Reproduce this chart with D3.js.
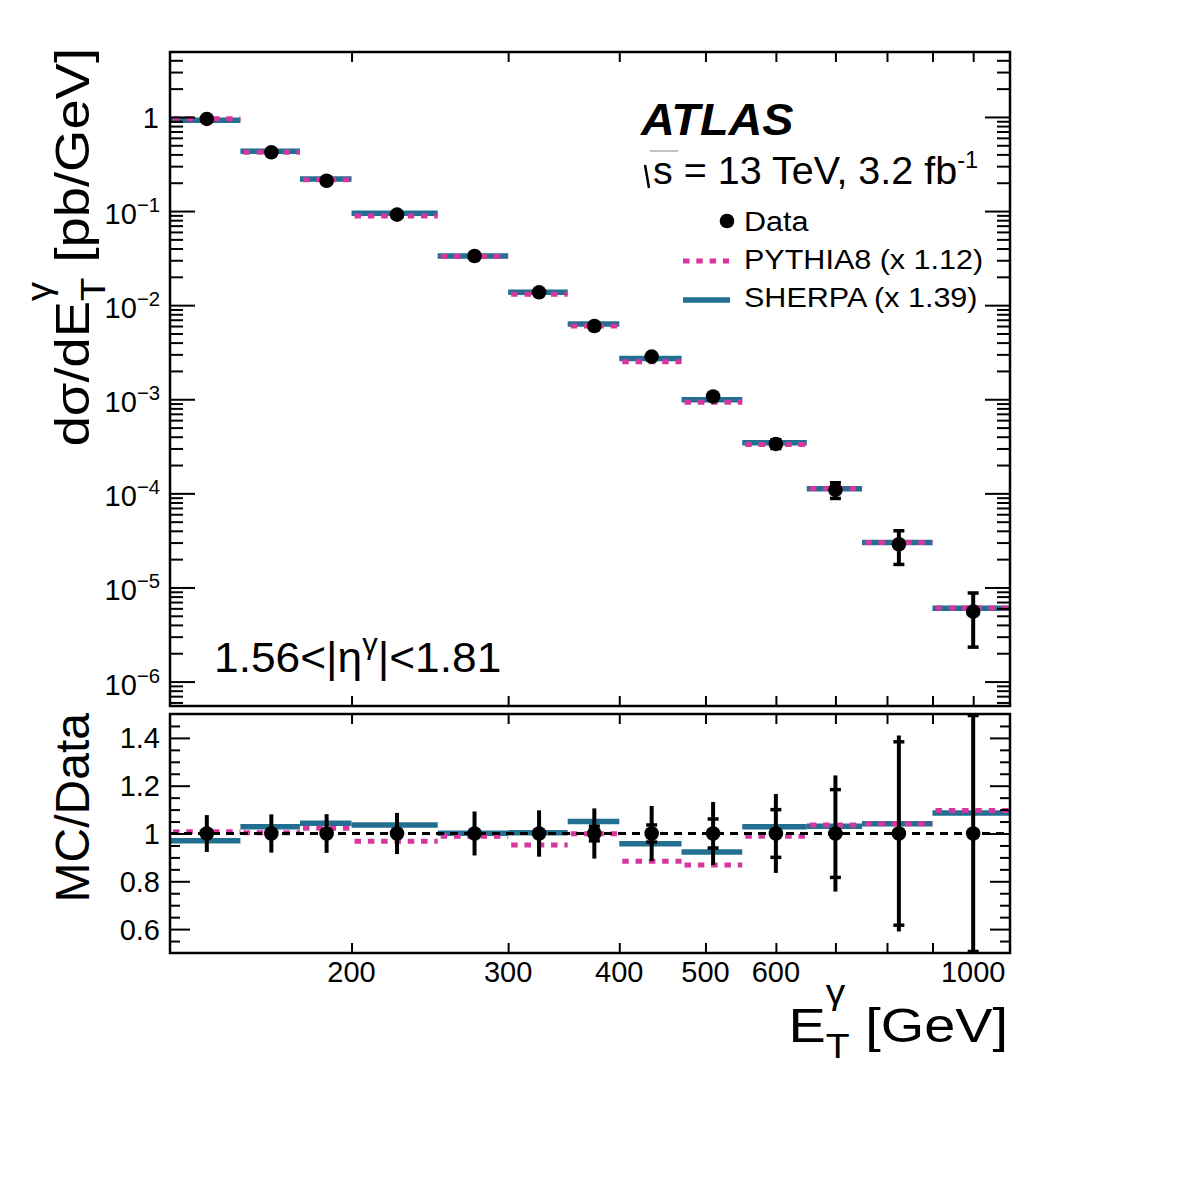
<!DOCTYPE html>
<html>
<head>
<meta charset="utf-8">
<script src="https://cdn.jsdelivr.net/npm/d3@7"></script>
<style>
body{margin:0;background:#ffffff;}
text{font-family:"Liberation Sans",Arial,Helvetica,sans-serif;fill:#000;}
</style>
</head>
<body>
<svg id="chart" width="1182" height="1182"></svg>
<script>
// bin edges in GeV, cross sections in pb/GeV, ratios MC/Data
var binEdges = [125,150,175,200,250,300,350,400,470,550,650,750,900,1100];
var dataXsec = [0.952,0.421,0.210,0.0916,0.0333,0.0137,0.00601,0.00284,0.00107,3.35e-4,1.09e-4,2.88e-5,5.53e-6];
var statErr = [0.010,0.010,0.012,0.012,0.014,0.018,0.037,0.042,0.067,0.106,0.19,0.39,0.58];
var totErr = [0.077,0.080,0.081,0.086,0.092,0.097,0.105,0.115,0.132,0.165,0.243,0.41,0.62];
var pythiaRatio = [1.007,1.003,1.022,0.968,0.989,0.952,0.999,0.884,0.868,0.988,1.036,1.041,1.096];
var sherpaRatio = [0.970,1.028,1.043,1.036,1.001,1.003,1.050,0.957,0.923,1.028,1.030,1.041,1.086];
var xTicks = [200,300,400,500,600,700,800,900,1000];
var xLabels = [200,300,400,500,600,1000];
var yExps = [0,-1,-2,-3,-4,-5,-6];
var ratioLabels = [0.6,0.8,1,1.2,1.4];
var legendNames = ["Data","PYTHIA8 (x 1.12)","SHERPA (x 1.39)"];

var pinkColor = "#d6379f";
var tealColor = "#236f91";

var svg = d3.select("#chart");
var L=170, R=1010, T1=52, B1=706, T2=714, B2=953;

var x = d3.scaleLog().domain([125,1100]).range([L,R]);
var y = d3.scaleLog().domain([5.5e-7,4.9]).range([B1,T1]);
var yr = d3.scaleLinear().domain([0.5,1.5]).range([B2,T2]);

function measure(str,size)
{
	var t = svg.append("text").attr("font-size",size).text(str);
	var w = t.node().getComputedTextLength();
	t.remove();
	return w;
}

var bins = [];
for(var i=0;i<dataXsec.length;i++)
{
	bins.push({
		lo:binEdges[i], hi:binEdges[i+1], c:(binEdges[i]+binEdges[i+1])/2,
		val:dataXsec[i], stat:statErr[i], tot:totErr[i],
		py:pythiaRatio[i], sh:sherpaRatio[i]
	});
}

var defs = svg.append("defs");
defs.append("clipPath").attr("id","clipMain").append("rect").attr("x",L).attr("y",T1).attr("width",R-L).attr("height",B1-T1);
defs.append("clipPath").attr("id","clipRatio").append("rect").attr("x",L).attr("y",T2).attr("width",R-L).attr("height",B2-T2);

//================ main panel ================
var gMain = svg.append("g").attr("clip-path","url(#clipMain)");

gMain.selectAll("line.sh").data(bins).enter().append("line")
	.attr("x1",function(d){return x(d.lo);}).attr("x2",function(d){return x(d.hi);})
	.attr("y1",function(d){return y(d.val*d.sh);}).attr("y2",function(d){return y(d.val*d.sh);})
	.attr("stroke",tealColor).attr("stroke-width",5.5);
gMain.selectAll("line.py").data(bins).enter().append("line")
	.attr("x1",function(d){return x(d.lo);}).attr("x2",function(d){return x(d.hi);})
	.attr("y1",function(d){return y(d.val*d.py);}).attr("y2",function(d){return y(d.val*d.py);})
	.attr("stroke",pinkColor).attr("stroke-width",5).attr("stroke-dasharray","6.5,6.8").attr("stroke-dashoffset",-3);

// stat error bars with caps
gMain.selectAll("line.err").data(bins).enter().append("line")
	.attr("x1",function(d){return x(d.c);}).attr("x2",function(d){return x(d.c);})
	.attr("y1",function(d){return y(d.val*(1+d.stat));}).attr("y2",function(d){return y(d.val*(1-d.stat));})
	.attr("stroke","#000").attr("stroke-width",4);
[1,-1].forEach(function(s){
	gMain.selectAll(null).data(bins).enter().append("line")
		.attr("x1",function(d){return x(d.c)-5.5;}).attr("x2",function(d){return x(d.c)+5.5;})
		.attr("y1",function(d){return y(d.val*(1+s*d.stat));}).attr("y2",function(d){return y(d.val*(1+s*d.stat));})
		.attr("stroke","#000").attr("stroke-width",3.5);
});
gMain.selectAll("circle").data(bins).enter().append("circle")
	.attr("cx",function(d){return x(d.c);}).attr("cy",function(d){return y(d.val);})
	.attr("r",7.3).attr("fill","#000");

//================ ratio panel ================
var gRat = svg.append("g").attr("clip-path","url(#clipRatio)");

gRat.selectAll("line.sh").data(bins).enter().append("line")
	.attr("x1",function(d){return x(d.lo);}).attr("x2",function(d){return x(d.hi);})
	.attr("y1",function(d){return yr(d.sh);}).attr("y2",function(d){return yr(d.sh);})
	.attr("stroke",tealColor).attr("stroke-width",5.5);
gRat.selectAll("line.py").data(bins).enter().append("line")
	.attr("x1",function(d){return x(d.lo);}).attr("x2",function(d){return x(d.hi);})
	.attr("y1",function(d){return yr(d.py);}).attr("y2",function(d){return yr(d.py);})
	.attr("stroke",pinkColor).attr("stroke-width",5).attr("stroke-dasharray","6.5,6.8").attr("stroke-dashoffset",-3);

gRat.append("line").attr("x1",L).attr("x2",R).attr("y1",yr(1)).attr("y2",yr(1))
	.attr("stroke","#000").attr("stroke-width",3).attr("stroke-dasharray","8,6");

function clampR(v){ return Math.max(0.5,Math.min(1.5,v)); }
// total error (no caps)
gRat.selectAll(null).data(bins).enter().append("line")
	.attr("x1",function(d){return x(d.c);}).attr("x2",function(d){return x(d.c);})
	.attr("y1",function(d){return yr(clampR(1+d.tot));}).attr("y2",function(d){return yr(clampR(1-d.tot));})
	.attr("stroke","#000").attr("stroke-width",4);
// stat error caps
[1,-1].forEach(function(s){
	gRat.selectAll(null).data(bins).enter().append("line")
		.attr("x1",function(d){return x(d.c)-5.5;}).attr("x2",function(d){return x(d.c)+5.5;})
		.attr("y1",function(d){return yr(clampR(1+s*d.stat))+s*1.5;}).attr("y2",function(d){return yr(clampR(1+s*d.stat))+s*1.5;})
		.attr("stroke","#000").attr("stroke-width",3.5);
});
gRat.selectAll("circle").data(bins).enter().append("circle")
	.attr("cx",function(d){return x(d.c);}).attr("cy",yr(1))
	.attr("r",7.3).attr("fill","#000");

//================ axes / ticks ================
function tickAxis(axis,tx,ty,size,vals)
{
	var g = svg.append("g").attr("transform","translate("+tx+","+ty+")")
		.call(axis.tickValues(vals).tickSize(size).tickFormat(""));
	g.select(".domain").remove();
	g.selectAll(".tick line").attr("stroke","#000").attr("stroke-width",2);
}

// x ticks, inward on both edges of both panels
tickAxis(d3.axisBottom(x),0,T1,10,xTicks);
tickAxis(d3.axisTop(x),0,B1,10,xTicks);
tickAxis(d3.axisBottom(x),0,T2,10,xTicks);
tickAxis(d3.axisTop(x),0,B2,10,xTicks);

// main y ticks
var yMajor = yExps.map(function(e){return Math.pow(10,e);});
var yMinor = [];
for(var e=-7;e<=0;e++)
	for(var k=2;k<=9;k++)
	{
		var v = k*Math.pow(10,e);
		if(v>5.5e-7 && v<4.9) yMinor.push(v);
	}
tickAxis(d3.axisRight(y),L,0,25,yMajor);
tickAxis(d3.axisRight(y),L,0,13,yMinor);
tickAxis(d3.axisLeft(y),R,0,25,yMajor);
tickAxis(d3.axisLeft(y),R,0,13,yMinor);

// ratio y ticks
var rMinor = [];
for(var i=11;i<=29;i++)
{
	if(i%4!=0) rMinor.push(i*0.05);
}
tickAxis(d3.axisRight(yr),L,0,20,ratioLabels);
tickAxis(d3.axisRight(yr),L,0,10,rMinor);
tickAxis(d3.axisLeft(yr),R,0,20,ratioLabels);
tickAxis(d3.axisLeft(yr),R,0,10,rMinor);

// frames
svg.append("rect").attr("x",L).attr("y",T1).attr("width",R-L).attr("height",B1-T1)
	.attr("fill","none").attr("stroke","#000").attr("stroke-width",2.5);
svg.append("rect").attr("x",L).attr("y",T2).attr("width",R-L).attr("height",B2-T2)
	.attr("fill","none").attr("stroke","#000").attr("stroke-width",2.5);

//================ tick labels ================
var FL = 29;
yExps.forEach(function(ex){
	var v = Math.pow(10,ex);
	if(ex==0)
	{
		svg.append("text").attr("x",159).attr("y",y(v)+11).attr("text-anchor","end")
			.attr("font-size",FL).text("1");
	}
	else
	{
		var t = svg.append("text").attr("x",160).attr("y",y(v)+13).attr("text-anchor","end").attr("font-size",FL);
		t.append("tspan").text("10");
		t.append("tspan").attr("font-size",FL*0.7).attr("dy",-12).text("\u2212"+(-ex));
	}
});
ratioLabels.forEach(function(v){
	svg.append("text").attr("x",160).attr("y",yr(v)+10.5).attr("text-anchor","end")
		.attr("font-size",FL).text(d3.format("")(+v.toFixed(1)));
});
xLabels.forEach(function(v){
	svg.append("text").attr("x",x(v)).attr("y",982).attr("text-anchor","middle")
		.attr("font-size",FL).text(v);
});

//================ axis titles ================
function stacked(t,base,sub,sup,rest,F)
{
	var fs = 0.7*F;
	var wSub = measure(sub,fs), wSup = measure(sup,fs);
	t.append("tspan").text(base);
	t.append("tspan").attr("font-size",fs).attr("dy",0.33*F).text(sub);
	t.append("tspan").attr("font-size",fs).attr("dx",-wSub).attr("dy",-1.1*F).text(sup);
	t.append("tspan").attr("dx",Math.max(0,wSub-wSup)).attr("dy",0.77*F).text(rest);
}

var FT = 49;
var xt = svg.append("text").attr("text-anchor","end").attr("font-size",FT)
	.attr("transform","translate(1008,1042) scale(1.14,1)");
stacked(xt,"E","T","\u03b3"," [GeV]",FT);

var yt = svg.append("text").attr("text-anchor","end").attr("font-size",FT)
	.attr("transform","translate(89,48) rotate(-90) scale(1.11,1)");
stacked(yt,"d\u03c3/dE","T","\u03b3"," [pb/GeV]",FT);

svg.append("text").attr("text-anchor","end").attr("font-size",48)
	.attr("transform","translate(89,713) rotate(-90)").text("MC/Data");

//================ labels ================
svg.append("text").attr("font-size",45)
	.attr("transform","translate(641,135) scale(1.04,1)")
	.attr("font-weight","bold").attr("font-style","italic").text("ATLAS");

var FS = 39.5;
svg.append("path").attr("d","M645,165 L649,188").attr("stroke","#000").attr("stroke-width",2.5).attr("fill","none");
svg.append("path").attr("d","M650,151 L678,151").attr("stroke","#888").attr("stroke-width",1).attr("fill","none");
var st = svg.append("text").attr("x",653).attr("y",184).attr("font-size",FS);
st.append("tspan").text("s = 13 TeV, 3.2 fb");
st.append("tspan").attr("font-size",FS*0.6).attr("dy",-16).text("-1");

var FE = 42;
var et = svg.append("text").attr("font-size",FE)
	.attr("transform","translate(214,672) scale(1.055,1)");
et.append("tspan").text("1.56<|\u03b7");
et.append("tspan").attr("font-size",FE*0.7).attr("dy",-18).text("\u03b3");
et.append("tspan").attr("dy",18).text("|<1.81");

//================ legend ================
var legY = [231,269,306.5];
var lg = svg.append("g");
lg.append("circle").attr("cx",727).attr("cy",221).attr("r",7.3).attr("fill","#000");
lg.append("line").attr("x1",683).attr("x2",729).attr("y1",261).attr("y2",261)
	.attr("stroke",pinkColor).attr("stroke-width",5).attr("stroke-dasharray","6.5,6.8");
lg.append("line").attr("x1",683).attr("x2",730).attr("y1",300).attr("y2",300)
	.attr("stroke",tealColor).attr("stroke-width",5.5);
legendNames.forEach(function(n,i){
	lg.append("text").attr("font-size",27.5)
		.attr("transform","translate(744,"+legY[i]+") scale(1.11,1)").text(n);
});
</script>
</body>
</html>
